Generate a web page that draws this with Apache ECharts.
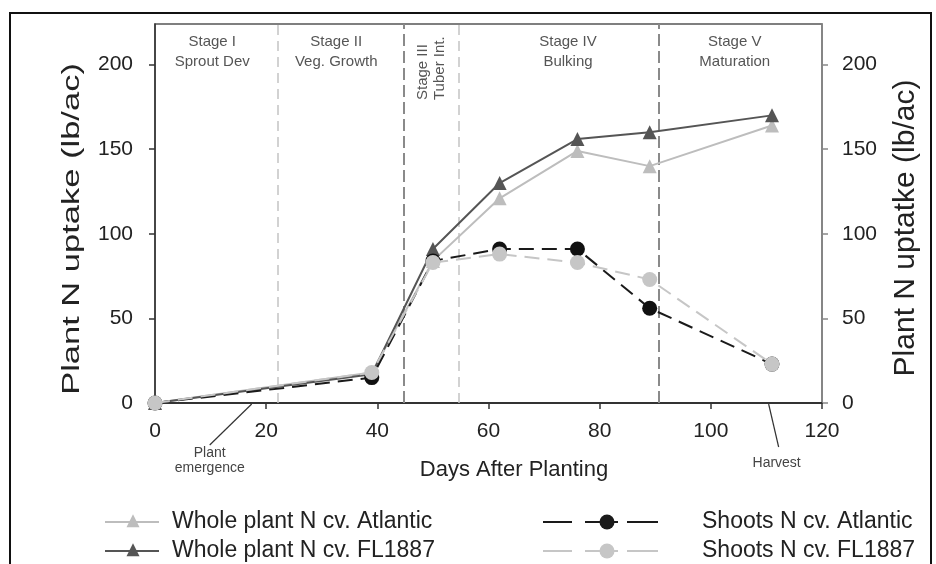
<!DOCTYPE html>
<html>
<head>
<meta charset="utf-8">
<script src="https://cdn.jsdelivr.net/npm/echarts@6/dist/echarts.min.js"></script>
<style>html,body{margin:0;padding:0;background:#fff}#c{width:936px;height:564px}</style>
</head>
<body>
<div id="c"></div>
<script>
const days = [0, 39, 50, 62, 76, 89, 111];
const wholeAtlantic = [0, 18, 84, 121, 149, 140, 164];
const wholeFL1887 = [0, 17, 91, 130, 156, 160, 170];
const shootsAtlantic = [0, 15, 84, 91, 91, 56, 23];
const shootsFL1887 = [0, 18, 83, 88, 83, 73, 23];
const xTicks = [0, 20, 40, 60, 80, 100, 120];
const yTicks = [0, 50, 100, 150, 200];
const stageLines = [22, 44.8, 54.7, 90.7];
const stageLineDark = [false, true, false, true];
const stageLabels = ['Stage I\nSprout Dev', 'Stage II\nVeg. Growth', 'Stage III\nTuber Int.', 'Stage IV\nBulking', 'Stage V\nMaturation'];
const stageCenters = [10.3, 32.6, 49.7, 74.3, 104.3];
const annotations = [{day: 17.4, text: 'Plant\nemergence'}, {day: 110.4, text: 'Harvest'}];
const seriesNames = ['Whole plant N cv. Atlantic', 'Whole plant N cv. FL1887', 'Shoots N cv. Atlantic', 'Shoots N cv. FL1887'];

const FONT = "'Liberation Sans', Arial, sans-serif";
const pair = arr => days.map((d, i) => [d, arr[i]]);

const chart = echarts.init(document.getElementById('c'), null, {renderer: 'canvas'});

const yAxisBase = (pos, lineColor) => ({
  type: 'value', position: pos, min: 0, max: 224,
  axisLine: {show: true, lineStyle: {color: lineColor, width: 1.5}},
  axisTick: {show: true, inside: false, length: 6, customValues: yTicks, lineStyle: {color: lineColor, width: 1.5}},
  axisLabel: {customValues: yTicks, fontSize: 21, color: '#222', fontFamily: FONT, margin: pos === 'left' ? 22 : 20},
  splitLine: {show: false}
});

chart.setOption({
  animation: false,
  backgroundColor: '#fff',
  grid: {left: 155, right: 114, top: 24, bottom: 161, show: true, borderColor: '#555', borderWidth: 1.5},
  xAxis: {
    type: 'value', min: 0, max: 120, interval: 20,
    axisLine: {lineStyle: {color: '#333', width: 2}},
    axisTick: {show: true, length: 6, lineStyle: {color: '#333', width: 1.5}},
    axisLabel: {fontSize: 21, color: '#222', fontFamily: FONT, margin: 18},
    splitLine: {show: false}
  },
  yAxis: [yAxisBase('left', '#333'), yAxisBase('right', '#888')],
  series: [
    {
      name: seriesNames[0], type: 'line', data: pair(wholeAtlantic), symbol: 'triangle', symbolSize: 14,
      itemStyle: {color: '#bdbdbd'}, lineStyle: {color: '#bdbdbd', width: 2}, z: 2,
      markLine: {
        silent: true, symbol: 'none', label: {show: false}, z: 1,
        data: stageLines.map((v, i) => ({
          xAxis: v,
          lineStyle: stageLineDark[i] ? {color: '#8a8a8a', width: 2, type: [12, 5]} : {color: '#c4c4c4', width: 1.5, type: [10, 6]}
        }))
      }
    },
    {
      name: seriesNames[1], type: 'line', data: pair(wholeFL1887), symbol: 'triangle', symbolSize: 14,
      itemStyle: {color: '#555'}, lineStyle: {color: '#555', width: 2}, z: 3
    },
    {
      name: seriesNames[2], type: 'line', data: pair(shootsAtlantic), symbol: 'circle', symbolSize: 15,
      itemStyle: {color: '#111'}, lineStyle: {color: '#1a1a1a', width: 2, type: [15, 8]}, z: 4
    },
    {
      name: seriesNames[3], type: 'line', data: pair(shootsFL1887), symbol: 'circle', symbolSize: 15,
      itemStyle: {color: '#c6c6c6'}, lineStyle: {color: '#c6c6c6', width: 2, type: [15, 8]}, z: 5
    }
  ]
});

// decorations positioned through the chart's own scales
const px = d => chart.convertToPixel({xAxisIndex: 0}, d);
const py = v => chart.convertToPixel({yAxisIndex: 0}, v);
const axisY = py(0);
const g = [];

// outer frame
g.push({type: 'rect', shape: {x: 10, y: 13, width: 921, height: 570}, style: {fill: 'none', stroke: '#111', lineWidth: 2}, z: 0});

// axis titles
g.push({type: 'text', x: 73, y: 229, rotation: Math.PI / 2, scaleX: 1.5,
  style: {text: 'Plant N uptake (lb/ac)', fontSize: 23, fontFamily: FONT, fill: '#222', align: 'center', verticalAlign: 'middle'}});
g.push({type: 'text', x: 906, y: 228, rotation: Math.PI / 2,
  style: {text: 'Plant N uptatke (lb/ac)', fontSize: 30, fontFamily: FONT, fill: '#222', align: 'center', verticalAlign: 'middle'}});
g.push({type: 'text', x: 514, y: 470,
  style: {text: 'Days After Planting', fontSize: 22, fontFamily: FONT, fill: '#222', align: 'center', verticalAlign: 'middle'}});

// stage labels
stageLabels.forEach((t, i) => {
  const x = px(stageCenters[i]);
  if (i === 2) {
    g.push({type: 'text', x: x, y: 100, rotation: Math.PI / 2,
      style: {text: t, fontSize: 15, lineHeight: 17, fontFamily: FONT, fill: '#555', align: 'left', verticalAlign: 'middle'}});
  } else {
    g.push({type: 'text', x: x, y: 32,
      style: {text: t, fontSize: 15, lineHeight: 20, fontFamily: FONT, fill: '#555', align: 'center', verticalAlign: 'top'}});
  }
});

// annotations
const a0 = annotations[0], a1 = annotations[1];
const e0 = px(a0.day);
g.push({type: 'line', shape: {x1: e0, y1: axisY + 1, x2: e0 - 42, y2: axisY + 42}, style: {stroke: '#333', lineWidth: 1.2}});
g.push({type: 'text', x: e0 - 42, y: axisY + 43,
  style: {text: a0.text, fontSize: 14, lineHeight: 15, fontFamily: FONT, fill: '#444', align: 'center', verticalAlign: 'top'}});
const e1 = px(a1.day);
g.push({type: 'line', shape: {x1: e1, y1: axisY + 1, x2: e1 + 10, y2: axisY + 44}, style: {stroke: '#333', lineWidth: 1.2}});
g.push({type: 'text', x: e1 + 8, y: axisY + 60,
  style: {text: a1.text, fontSize: 14, fontFamily: FONT, fill: '#444', align: 'center', verticalAlign: 'middle'}});

// legend
const tri = (cx, cy, s) => [[cx, cy - s * 0.6], [cx + s / 2, cy + s * 0.4], [cx - s / 2, cy + s * 0.4]];
const legRows = [522, 551];
const wholeColors = ['#bdbdbd', '#555'];
wholeColors.forEach((c, i) => {
  const y = legRows[i];
  g.push({type: 'line', shape: {x1: 105, y1: y, x2: 159, y2: y}, style: {stroke: c, lineWidth: 2}});
  g.push({type: 'polygon', shape: {points: tri(133, y, 13)}, style: {fill: c}});
  g.push({type: 'text', x: 172, y: y, style: {text: seriesNames[i], fontSize: 23, fontFamily: FONT, fill: '#222', align: 'left', verticalAlign: 'middle'}});
});
const shootColors = ['#1a1a1a', '#c6c6c6'];
const segs = [[543, 572], [585, 618], [627, 658]];
shootColors.forEach((c, i) => {
  const y = legRows[i];
  segs.forEach(s => g.push({type: 'line', shape: {x1: s[0], y1: y, x2: s[1], y2: y}, style: {stroke: c, lineWidth: 2}}));
  g.push({type: 'circle', shape: {cx: 607, cy: y, r: 7.5}, style: {fill: c}});
  g.push({type: 'text', x: 702, y: y, style: {text: seriesNames[i + 2], fontSize: 23, fontFamily: FONT, fill: '#222', align: 'left', verticalAlign: 'middle'}});
});

chart.setOption({graphic: g});
</script>
</body>
</html>
